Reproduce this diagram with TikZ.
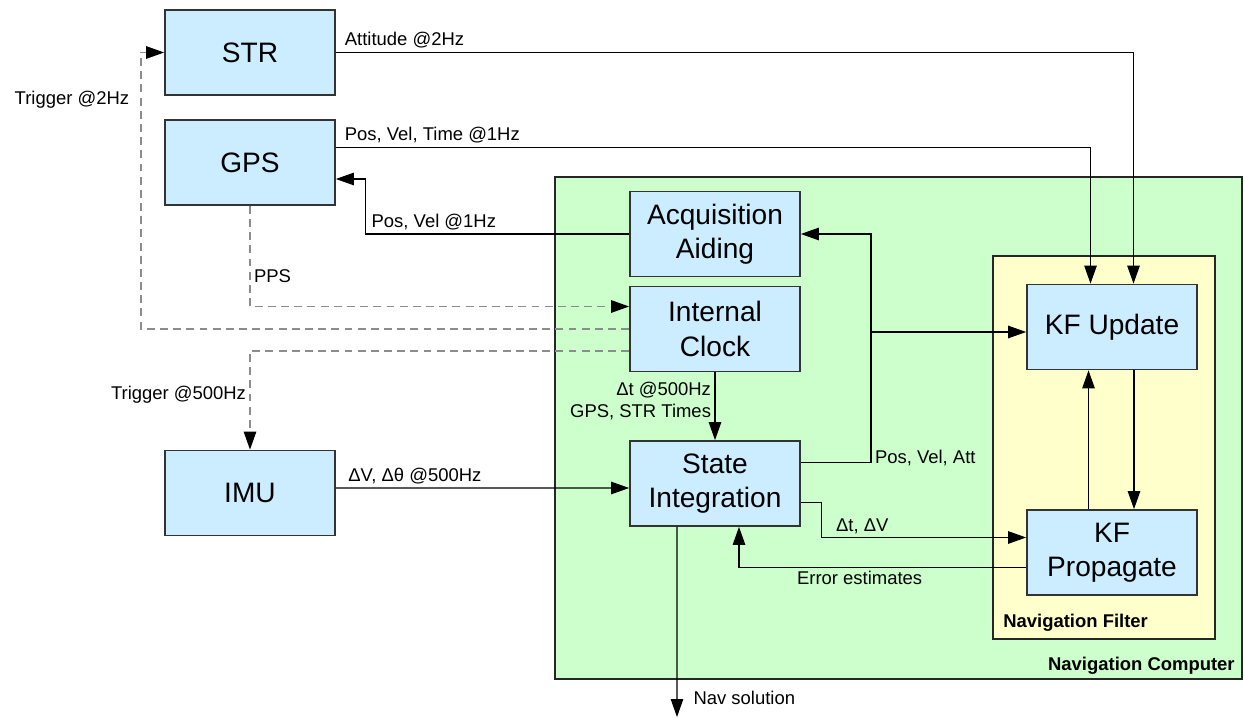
\documentclass[tikz,border=0pt]{standalone}
\usepackage{fontspec}
\setmainfont{Liberation Sans}
\usetikzlibrary{arrows.meta}
\definecolor{blockblue}{RGB}{204,236,255}
\definecolor{compgreen}{RGB}{204,255,204}
\definecolor{filteryellow}{RGB}{255,255,204}

\begin{document}
\begin{tikzpicture}[x=0.02cm, y=-0.02cm,
  block/.style={draw=black!80, line width=1pt, fill=blockblue,
    minimum width=3.4cm, minimum height=1.7cm, align=center, inner sep=1pt,
    font=\fontsize{16}{19.5}\selectfont},
  group/.style={draw=black!85, line width=1pt, inner sep=0pt},
  lbl/.style={font=\fontsize{10.5}{12.5}\selectfont, inner sep=2pt},
  tag/.style={font=\fontsize{10.5}{12.5}\selectfont\bfseries, inner sep=0pt},
  arrow/.style={-{Triangle[length=0.36cm,width=0.25cm,color=black]}, line width=0.6pt},
  trig/.style={arrow, draw=black!45, dash pattern=on 4.5pt off 3pt}
]
\useasboundingbox (0,0) rectangle (1244,719);

\node[group, fill=compgreen, minimum width=13.74cm, minimum height=10.04cm] (navcomp) at (898.5,428) {};
\node[group, fill=filteryellow, line width=0.8pt, minimum width=4.44cm, minimum height=7.66cm] (navfilt) at (1104,447.5) {};
\node[tag, anchor=base east] (navcomplbl) at (1235,670) {Navigation Computer};
\node[tag, anchor=base west] (navfiltlbl) at (1003,627) {Navigation Filter};

\node[block] (str) at (250,52.5) {STR};
\node[block] (gps) at (250,162.5) {GPS};
\node[block] (imu) at (250,493) {IMU};
\node[block] (acq) at (715,234) {Acquisition\\Aiding};
\node[block] (clk) at (715,329) {Internal\\Clock};
\node[block] (sint) at (715,483.5) {State\\Integration};
\node[block] (kfu) at (1112,327) {KF Update};
\node[block] (kfp) at (1112,552.5) {KF\\Propagate};

\coordinate (strtrig) at (141,52.5);
\coordinate (bus) at (871,332);
\coordinate (navout) at (677,717);

% sensors
\draw[arrow] (str.east) -| node[lbl, pos=0, above right, xshift=0.1cm] {Attitude @2Hz} ([xshift=0.43cm]kfu.north);
\draw[arrow] ([yshift=0.3cm]gps.east) -| node[lbl, pos=0, above right, xshift=0.1cm] {Pos, Vel, Time @1Hz} ([xshift=-0.43cm]kfu.north);
\draw[arrow] (acq.west) -- ++(-264,0) node[lbl, above right, xshift=0.05cm] {Pos, Vel @1Hz} |- ([yshift=-0.33cm]gps.east);
\draw[arrow] ([yshift=0.1cm]imu.east) -- node[lbl, pos=0, above right, xshift=0.17cm] {ΔV, Δθ @500Hz} ([yshift=-0.09cm]sint.west);

% timing
\draw[trig] (gps.south) |- node[lbl, pos=0.35, right] {PPS} ([yshift=0.45cm]clk.west);
\draw[trig] (clk.west) -| (strtrig) -- (str.west);
\node[lbl, anchor=east] (trigstrlbl) at (133,100) {Trigger @2Hz};
\draw[trig] ([yshift=-0.44cm]clk.west) -| node[lbl, pos=0.72, left] {Trigger @500Hz} (imu.north);
\draw[arrow] (clk.south) -- node[lbl, midway, left, align=right, yshift=0.1cm] {Δt @500Hz\\GPS, STR Times} (sint.north);

% state integration and filter
\draw[arrow] ([yshift=0.42cm]sint.east) -| node[lbl, pos=0.5, right, yshift=0.1cm] {Pos, Vel, Att} (bus) |- (acq.east);
\draw[arrow] (bus) -- (bus -| kfu.west);
\draw[arrow] ([yshift=-0.38cm]sint.east) -- ++(20.5,0) |- node[lbl, pos=0.6, above] {Δt, ΔV} ([yshift=0.3cm]kfp.west);
\draw[arrow] ([yshift=-0.3cm]kfp.west) -| node[lbl, pos=0.29, below] {Error estimates} ([xshift=0.48cm]sint.south);
\draw[arrow] ([xshift=-0.76cm]sint.south) -- node[lbl, pos=0.9, right, xshift=0.25cm] {Nav solution} (navout);
\draw[arrow] ([xshift=-0.47cm]kfp.north) -- ([xshift=-0.47cm]kfu.south);
\draw[arrow] ([xshift=0.44cm]kfu.south) -- ([xshift=0.44cm]kfp.north);
\end{tikzpicture}
\end{document}
